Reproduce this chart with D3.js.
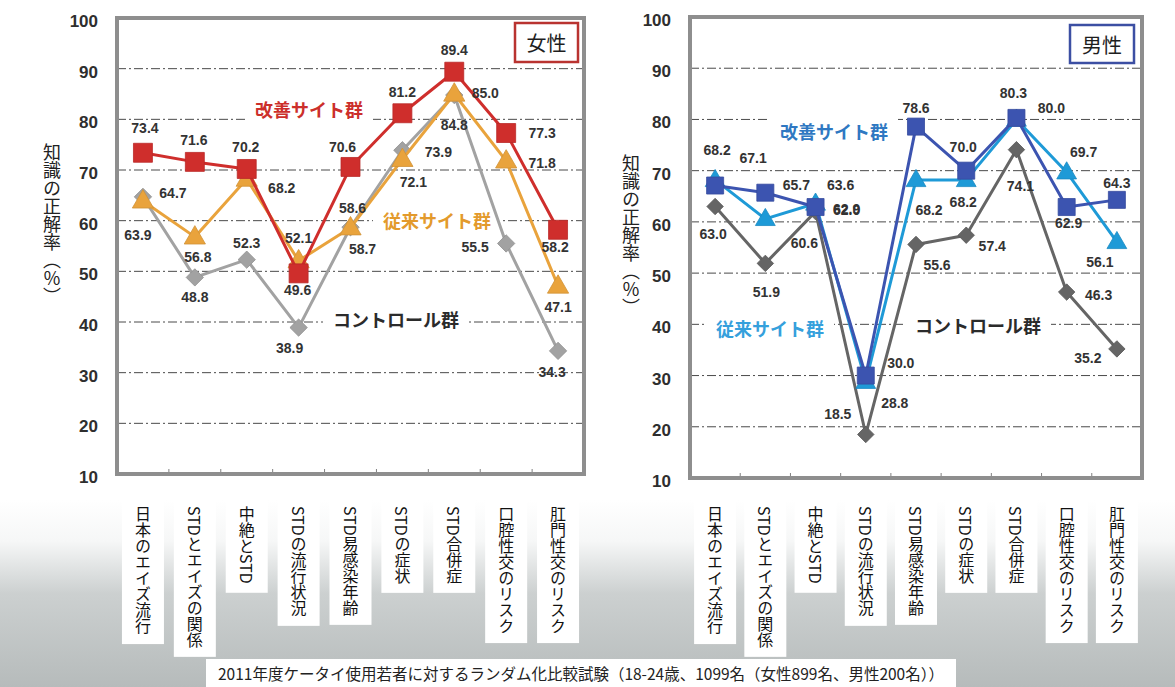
<!DOCTYPE html>
<html>
<head>
<meta charset="utf-8">
<script src="https://cdn.jsdelivr.net/npm/d3@7"></script>
<style>
  body { margin: 0; background: #fff; }
  svg { display: block; }
</style>
</head>
<body>
<div id="wrapper"></div>
<script>
// data
const categories = ["日本のエイズ流行", "STDとエイズの関係", "中絶とSTD", "STDの流行状況", "STD易感染年齢", "STDの症状", "STD合併症", "口腔性交のリスク", "肛門性交のリスク"];
const yTicks = [10, 20, 30, 40, 50, 60, 70, 80, 90, 100];
const seriesNames = ["改善サイト群", "従来サイト群", "コントロール群"];
const panelTitles = ["女性", "男性"];
const yTitle = "知識の正解率（％）";
const caption = "2011年度ケータイ使用若者に対するランダム化比較試験（18-24歳、1099名（女性899名、男性200名））";

const femaleImproved = [73.4, 71.6, 70.2, 49.6, 70.6, 81.2, 89.4, 77.3, 58.2];
const femaleConventional = [63.9, 56.8, 68.2, 52.1, 58.6, 72.1, 85.0, 71.8, 47.1];
const femaleControl = [64.7, 48.8, 52.3, 38.9, 58.7, 73.9, 84.8, 55.5, 34.3];

const maleImproved = [67.1, 65.7, 62.9, 30.0, 78.6, 70.0, 80.3, 62.9, 64.3];
const maleConventional = [68.2, 60.6, 63.6, 28.8, 68.2, 68.2, 80.0, 69.7, 56.1];
const maleControl = [63.0, 51.9, 62.0, 18.5, 55.6, 57.4, 74.1, 46.3, 35.2];

// where each value label sits relative to its point [dx, dy]
const femaleImprovedOffsets = [[2, -25], [-1, -22], [-1, -22], [-1, 17], [-8, -20], [0, -21], [0, -22], [36, 0], [-3, 17]];
const femaleConventionalOffsets = [[-5, 34], [3, 20], [35, 9], [0, -23], [2, -20], [11, 23], [31, -1], [36, 2], [0, 21]];
const femaleControlOffsets = [[30, -4], [0, 20], [0, -17], [-9, 20], [12, 22], [36, 2], [0, 30], [-31, 4], [-6, 21]];
const maleImprovedOffsets = [[38, -28], [31, -8], [31, 2], [35, -13], [0, -19], [-3, -24], [-3, -25], [2, 16], [0, -17]];
const maleConventionalOffsets = [[2, -30], [39, 24], [25, -18], [29, 21], [13, 30], [-3, 22], [35, -11], [17, -20], [-17, 20]];
const maleControlOffsets = [[-2, 27], [1, 29], [31, -2], [-28, -20], [21, 21], [26, 11], [4, 36], [32, 3], [-29, 9]];

const width = 1175;
const height = 687;

const panels = [
  {
    title: panelTitles[0], titleColor: "#b93330", titleBox: { x: 515, y: 23, w: 63, h: 39 },
    left: 117, right: 584, top: 18, bottom: 474, yTitleX: 52, yTitleY: 224,
    series: [
      { name: seriesNames[2], values: femaleControl, offsets: femaleControlOffsets, color: "#a2a2a2", marker: "diamond", size: 150, namePos: [396, 319], nameColor: "#2b2b2b" },
      { name: seriesNames[1], values: femaleConventional, offsets: femaleConventionalOffsets, color: "#e9a33c", marker: "triangle", size: 195, namePos: [437, 220], nameColor: "#e39a2c" },
      { name: seriesNames[0], values: femaleImproved, offsets: femaleImprovedOffsets, color: "#cf2e2c", marker: "square", size: 360, namePos: [309, 109], nameColor: "#cc2f2b" },
    ],
  },
  {
    title: panelTitles[1], titleColor: "#3c4fa3", titleBox: { x: 1070, y: 25, w: 64, h: 38 },
    left: 690, right: 1142, top: 17, bottom: 478, yTitleX: 631, yTitleY: 235,
    series: [
      { name: seriesNames[2], values: maleControl, offsets: maleControlOffsets, color: "#656565", marker: "diamond", size: 135, namePos: [978, 325], nameColor: "#2b2b2b" },
      { name: seriesNames[1], values: maleConventional, offsets: maleConventionalOffsets, color: "#1e9ad7", marker: "triangle", size: 170, namePos: [770, 328], nameColor: "#35a0dc" },
      { name: seriesNames[0], values: maleImproved, offsets: maleImprovedOffsets, color: "#3c54b0", marker: "square", size: 290, namePos: [834, 131], nameColor: "#2f78c2" },
    ],
  },
];

const svg = d3.select("#wrapper").append("svg")
  .attr("width", width)
  .attr("height", height);

// grey fade at the bottom of the page
const grad = svg.append("defs").append("linearGradient")
  .attr("id", "bg-fade")
  .attr("x1", 0).attr("y1", 0).attr("x2", 0).attr("y2", 1);
grad.append("stop").attr("offset", 0).attr("stop-color", "#ffffff");
grad.append("stop").attr("offset", 0.22).attr("stop-color", "#f6f7f7");
grad.append("stop").attr("offset", 0.5).attr("stop-color", "#ccd0d0");
grad.append("stop").attr("offset", 1).attr("stop-color", "#b6bbbb");

svg.append("rect")
  .attr("x", 0).attr("y", 500)
  .attr("width", width).attr("height", height - 500)
  .attr("fill", "url(#bg-fade)");

const symbolFor = {
  square: d3.symbolSquare,
  triangle: d3.symbolTriangle,
  diamond: d3.symbolSquare,
};

panels.forEach((p) => {
  const x = d3.scaleBand().domain(categories).range([p.left, p.right]);
  const y = d3.scaleLinear().domain([10, 100]).range([p.bottom, p.top]);
  const cx = (i) => x(categories[i]) + x.bandwidth() / 2;

  const g = svg.append("g");

  // plot area
  g.append("rect")
    .attr("x", p.left).attr("y", p.top)
    .attr("width", p.right - p.left).attr("height", p.bottom - p.top)
    .attr("fill", "#fff");

  // grid lines
  g.selectAll(".grid")
    .data(yTicks.filter((t) => t > 10 && t < 100))
    .join("line")
    .attr("x1", p.left).attr("x2", p.right)
    .attr("y1", (d) => y(d)).attr("y2", (d) => y(d))
    .attr("stroke", "#4a4a4a")
    .attr("stroke-width", 1)
    .attr("stroke-dasharray", "9,3,2,3");

  // y axis labels
  const yAxis = d3.axisLeft(y).tickValues(yTicks).tickSize(0).tickPadding(0);
  const ya = g.append("g")
    .attr("transform", `translate(${p.left - 19},3)`)
    .call(yAxis);
  ya.select(".domain").remove();
  ya.selectAll("text")
    .attr("font-family", "Liberation Sans, Arial, sans-serif")
    .attr("font-size", 17)
    .attr("font-weight", "bold")
    .attr("fill", "#2e2e2e");

  // small ticks on the bottom edge between categories
  g.selectAll(".xtick")
    .data(categories.slice(1))
    .join("line")
    .attr("x1", (d) => x(d)).attr("x2", (d) => x(d))
    .attr("y1", p.bottom).attr("y2", p.bottom - 5)
    .attr("stroke", "#808080")
    .attr("stroke-width", 1);

  // frame
  g.append("rect")
    .attr("x", p.left).attr("y", p.top)
    .attr("width", p.right - p.left).attr("height", p.bottom - p.top)
    .attr("fill", "none")
    .attr("stroke", "#8e8e8e")
    .attr("stroke-width", 4);

  // y title
  g.append("text")
    .attr("x", p.yTitleX).attr("y", p.yTitleY)
    .style("writing-mode", "vertical-rl")
    .attr("text-anchor", "middle")
    .attr("font-family", "Noto Sans CJK JP, sans-serif")
    .attr("font-size", 18)
    .attr("fill", "#222")
    .text(yTitle);

  // series names with white patches that break the grid lines
  p.series.forEach((s) => {
    const t = g.append("text")
      .attr("x", s.namePos[0]).attr("y", s.namePos[1])
      .attr("text-anchor", "middle")
      .attr("dominant-baseline", "central")
      .attr("font-family", "Noto Sans CJK JP, sans-serif")
      .attr("font-size", 18)
      .attr("font-weight", "bold")
      .attr("fill", s.nameColor)
      .text(s.name);
    const b = t.node().getBBox();
    g.insert("rect", () => t.node())
      .attr("x", b.x - 10).attr("y", b.y)
      .attr("width", b.width + 20).attr("height", b.height)
      .attr("fill", "#fff");
  });

  // panel title box
  g.append("rect")
    .attr("x", p.titleBox.x).attr("y", p.titleBox.y)
    .attr("width", p.titleBox.w).attr("height", p.titleBox.h)
    .attr("fill", "#fff")
    .attr("stroke", p.titleColor)
    .attr("stroke-width", 2.5);
  g.append("text")
    .attr("x", p.titleBox.x + p.titleBox.w / 2)
    .attr("y", p.titleBox.y + p.titleBox.h / 2)
    .attr("text-anchor", "middle")
    .attr("dominant-baseline", "central")
    .attr("font-family", "Noto Sans CJK JP, sans-serif")
    .attr("font-size", 20)
    .attr("fill", "#1e1e1e")
    .text(p.title);

  // lines and markers
  const line = d3.line().x((d, i) => cx(i)).y((d) => y(d));
  p.series.forEach((s) => {
    g.append("path")
      .attr("d", line(s.values))
      .attr("fill", "none")
      .attr("stroke", s.color)
      .attr("stroke-width", 3)
      .attr("stroke-linejoin", "round");

    const sym = d3.symbol().type(symbolFor[s.marker]).size(s.size);
    g.selectAll(null)
      .data(s.values)
      .join("path")
      .attr("d", sym)
      .attr("transform", (d, i) =>
        `translate(${cx(i)},${y(d) + (s.marker === "triangle" ? 1 : 0)})` +
        (s.marker === "diamond" ? " rotate(45)" : ""))
      .attr("fill", s.color)
      .attr("stroke", d3.color(s.color).darker(0.3))
      .attr("stroke-width", 0.8);
  });

  // value labels
  p.series.forEach((s) => {
    g.selectAll(null)
      .data(s.values)
      .join("text")
      .attr("x", (d, i) => cx(i) + s.offsets[i][0])
      .attr("y", (d, i) => y(d) + s.offsets[i][1])
      .attr("text-anchor", "middle")
      .attr("dominant-baseline", "central")
      .attr("font-family", "Liberation Sans, Arial, sans-serif")
      .attr("font-size", 14)
      .attr("font-weight", "bold")
      .attr("fill", "#333")
      .text((d) => d.toFixed(1));
  });

  // category labels, written top to bottom on white strips
  const cat = g.append("g");
  categories.forEach((c, i) => {
    const t = cat.append("text")
      .attr("x", cx(i)).attr("y", 506)
      .style("writing-mode", "vertical-rl")
      .attr("font-family", "Noto Sans CJK JP, sans-serif")
      .attr("font-size", 16)
      .attr("fill", "#111")
      .text(c);
    const b = t.node().getBBox();
    cat.insert("rect", () => t.node())
      .attr("x", cx(i) - 21).attr("y", 492)
      .attr("width", 42).attr("height", b.y + b.height + 9 - 492)
      .attr("fill", "#fff");
  });
});

// caption
const cap = svg.append("text")
  .attr("x", 581).attr("y", 673)
  .attr("text-anchor", "middle")
  .attr("dominant-baseline", "central")
  .attr("font-family", "Noto Sans CJK JP, sans-serif")
  .attr("font-size", 15.5)
  .attr("fill", "#222")
  .text(caption);
const cb = cap.node().getBBox();
svg.insert("rect", () => cap.node())
  .attr("x", cb.x - 12).attr("y", 659)
  .attr("width", cb.width + 24).attr("height", height - 659)
  .attr("fill", "#fff");
</script>
</body>
</html>
